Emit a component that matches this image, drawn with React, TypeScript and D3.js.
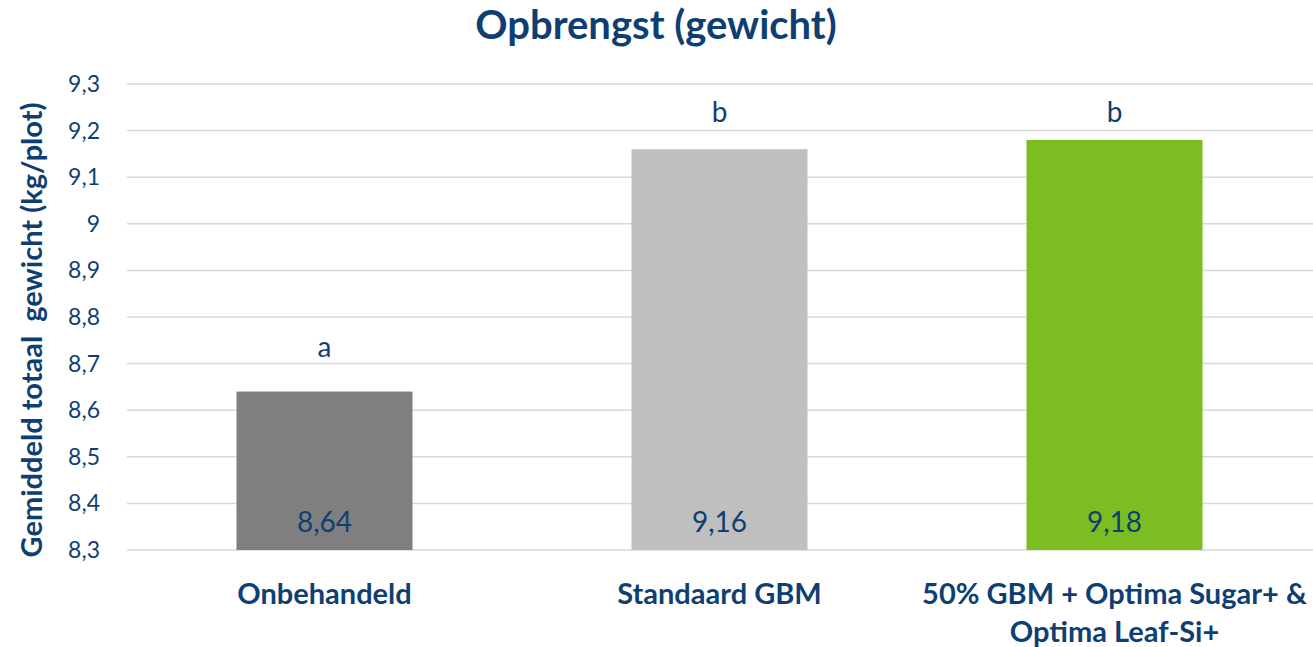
import React from "react";
import * as d3 from "d3";

const categories: string[][] = [
  ["Onbehandeld"],
  ["Standaard GBM"],
  ["50% GBM + Optima Sugar+ &", "Optima Leaf-Si+"],
];
const values: number[] = [8.64, 9.16, 9.18];
const valueLabels: string[] = ["8,64", "9,16", "9,18"];
const letters: string[] = ["a", "b", "b"];
const letterPos: number[] = [8.715, 9.218, 9.218];
const barColors: string[] = ["#7F7F7F", "#BFBFBF", "#7CBE22"];
const yTicks: number[] = [8.3, 8.4, 8.5, 8.6, 8.7, 8.8, 8.9, 9.0, 9.1, 9.2, 9.3];
const yTickLabels: string[] = ["8,3", "8,4", "8,5", "8,6", "8,7", "8,8", "8,9", "9", "9,1", "9,2", "9,3"];

const W = 1313;
const H = 647;
const TXT = "#0F3F72";
const FONT = "Lato, 'Open Sans', sans-serif";

export default function App() {
  const y = d3.scaleLinear().domain([8.3, 9.3]).range([550, 84]);
  const idx = categories.map((_, i) => String(i));
  const x = d3
    .scaleBand<string>()
    .domain(idx)
    .range([127, 1312])
    .paddingInner(0.5544)
    .paddingOuter(0.2772);
  const bw = x.bandwidth();

  return (
    <svg
      width={W}
      height={H}
      style={{ position: "absolute", left: 0, top: 0, background: "#fff" }}
      fontFamily={FONT}
    >
      <text x={656} y={39} textAnchor="middle" fontSize={40} fontWeight={700} fill={TXT}>
        Opbrengst (gewicht)
      </text>
      <text
        transform={`translate(42,${330}) rotate(-90)`}
        textAnchor="middle"
        fontSize={29}
        fontWeight={700}
        fill={TXT}
        style={{ whiteSpace: "pre" }}
      >
        {"Gemiddeld totaal  gewicht (kg/plot)"}
      </text>
      {yTicks.map((t, i) => (
        <g key={i}>
          <line x1={127} x2={1313} y1={y(t)} y2={y(t)} stroke="#D9D9D9" strokeWidth={1.5} />
          <text x={100} y={y(t)} dy="0.35em" textAnchor="end" fontSize={23} fill={TXT}>
            {yTickLabels[i]}
          </text>
        </g>
      ))}
      {values.map((v, i) => {
        const x0 = x(String(i))!;
        const cx = x0 + bw / 2;
        return (
          <g key={i}>
            <rect x={x0} y={y(v)} width={bw} height={y(8.3) - y(v)} fill={barColors[i]} />
            <text x={cx} y={y(8.3) - 18} textAnchor="middle" fontSize={28} fill={TXT}>
              {valueLabels[i]}
            </text>
            <text x={cx} y={y(letterPos[i])} textAnchor="middle" fontSize={28} fill={TXT}>
              {letters[i]}
            </text>
            {categories[i].map((line, j) => (
              <text
                key={j}
                x={cx}
                y={604 + j * 38}
                textAnchor="middle"
                fontSize={29}
                fontWeight={700}
                fill={TXT}
              >
                {line}
              </text>
            ))}
          </g>
        );
      })}
    </svg>
  );
}
